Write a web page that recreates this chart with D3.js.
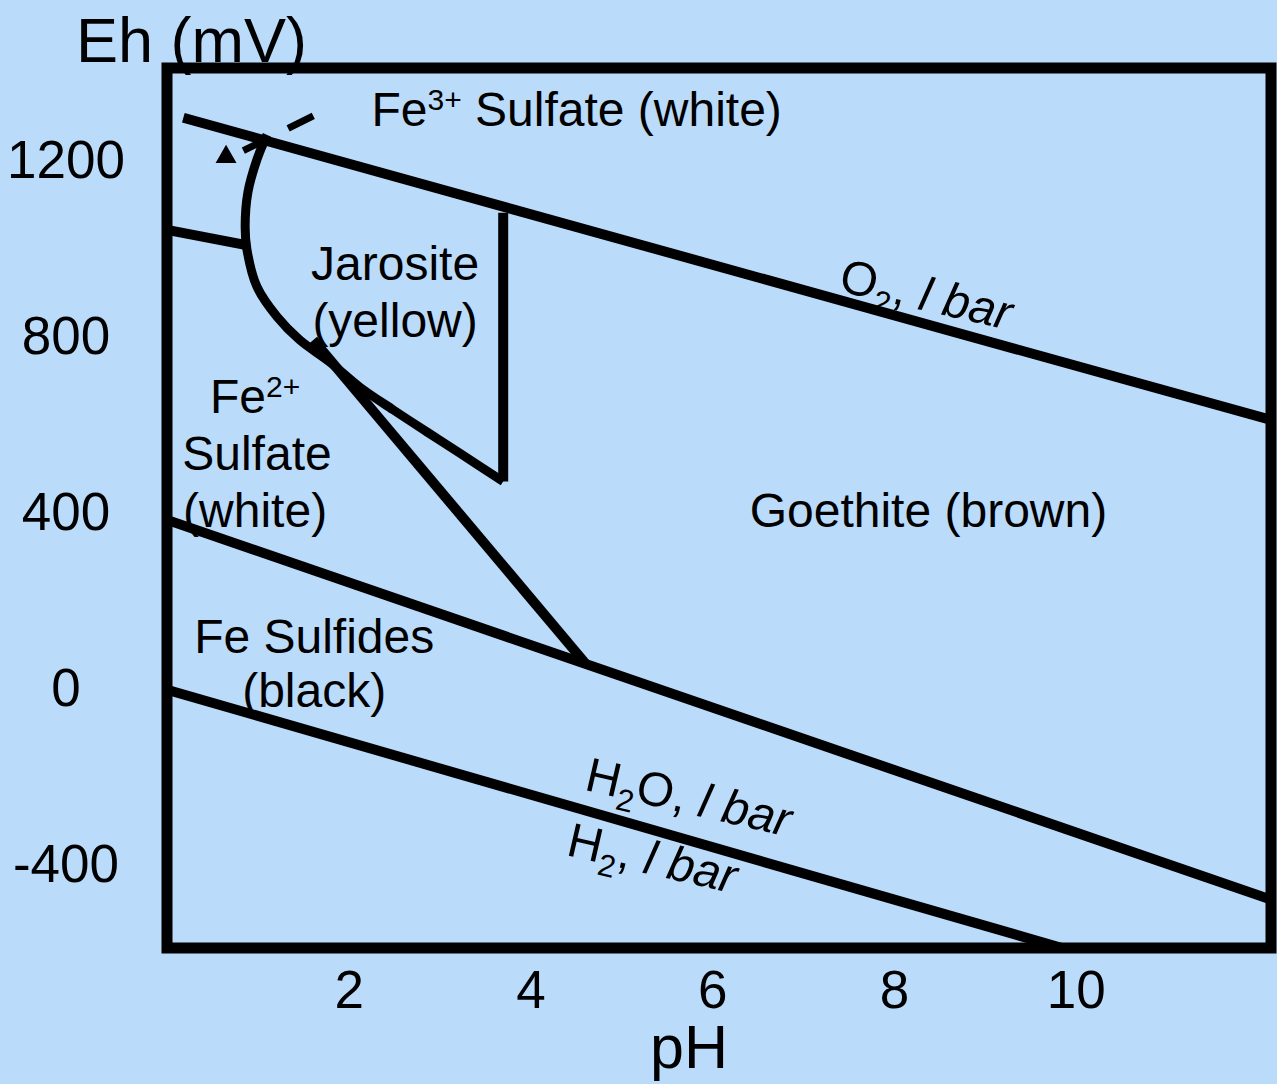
<!DOCTYPE html>
<html>
<head>
<meta charset="utf-8">
<script src="https://cdn.jsdelivr.net/npm/d3@7"></script>
<style>
  html, body { margin: 0; padding: 0; background: #bbdbfb; }
  svg { display: block; font-family: "Liberation Sans", Arial, Helvetica, sans-serif; }
</style>
</head>
<body>
<svg id="chart" width="1277" height="1084"></svg>
<script>
// axis ticks
var ph_ticks = [2, 4, 6, 8, 10];
var eh_ticks = [-400, 0, 400, 800, 1200];

// boundaries, [pH, Eh (mV)]
var o2_line = [[0.18, 1297], [12.15, 610]];
var h2_line = [[0, -3], [9.85, -590]];
var sulfide_line = [[0, 383], [12.15, -480]];
var fe23_line = [[0, 1042], [0.86, 1008]];
var jarosite_curve = [[1.10, 1258], [0.99, 1202], [0.89, 1127], [0.86, 1049], [0.88, 997],
    [0.99, 913], [1.21, 845], [1.46, 792], [1.79, 742], [2.12, 685], [2.49, 633],
    [2.86, 583], [3.22, 535], [3.70, 470]];
var jarosite_edge = [[3.70, 470], [3.70, 1081]];
var goethite_edge = [[1.61, 792], [4.60, 58]];
var dashed_edge = [[0.84, 1222], [1.61, 1301]];
var triangle_mark = [[0.65, 1208]];

// labels
var region_names = ["Jarosite", "(yellow)", "Goethite (brown)", "Fe Sulfides", "(black)"];

var svg = d3.select("#chart");
var x = d3.scaleLinear().domain([0, 12.15]).range([167, 1271]);
var y = d3.scaleLinear().domain([-590, 1410]).range([948, 68]);
var line = d3.line().x(d => x(d[0])).y(d => y(d[1]));

// axes
var gx = svg.append("g").attr("transform", "translate(0," + y.range()[0] + ")")
    .call(d3.axisBottom(x).tickValues(ph_ticks).tickSize(0).tickPadding(22).tickFormat(d => String(d)));
var gy = svg.append("g").attr("transform", "translate(" + x.range()[0] + ",0)")
    .call(d3.axisLeft(y).tickValues(eh_ticks).tickSize(0).tickFormat(d => String(d)));
svg.selectAll(".domain").remove();
svg.selectAll(".tick text").attr("font-family", "Liberation Sans, Arial, sans-serif")
    .attr("font-size", 53).attr("fill", "#000");
gy.selectAll(".tick text").attr("x", -101).attr("text-anchor", "middle");

// boundaries
var g = svg.append("g").attr("fill", "none").attr("stroke", "#000");
[o2_line, h2_line, sulfide_line, fe23_line, jarosite_edge, goethite_edge].forEach(function (d) {
    g.append("path").datum(d).attr("d", line).attr("stroke-width", 10);
});
g.append("path").datum(jarosite_curve)
    .attr("d", d3.line().x(d => x(d[0])).y(d => y(d[1])).curve(d3.curveCatmullRom))
    .attr("stroke-width", 9).attr("stroke-linejoin", "miter");
g.append("path").datum(dashed_edge).attr("d", line)
    .attr("stroke-width", 7).attr("stroke-dasharray", "17 33 30");
svg.selectAll(".tri").data(triangle_mark).join("path").classed("tri", true)
    .attr("transform", d => "translate(" + x(d[0]) + "," + y(d[1]) + ")")
    .attr("d", d3.symbol(d3.symbolTriangle, 190)).attr("fill", "#000");

// frame
svg.append("rect").attr("x", x.range()[0]).attr("y", y.range()[1])
    .attr("width", x.range()[1] - x.range()[0]).attr("height", y.range()[0] - y.range()[1])
    .attr("fill", "none").attr("stroke", "#000").attr("stroke-width", 11);

// axis titles
svg.append("text").attr("x", 76).attr("y", 62).attr("font-size", 63).text("Eh (mV)");
svg.append("text").attr("x", 689).attr("y", 1068).attr("font-size", 61)
    .attr("text-anchor", "middle").text("pH");

// region labels
var lab = svg.append("g").attr("font-size", 48).attr("fill", "#000");
function plain(t, ph, eh, anchor) {
    return lab.append("text").attr("x", x(ph)).attr("y", y(eh))
        .attr("text-anchor", anchor || "middle").text(t);
}
var t3 = lab.append("text").attr("x", x(2.25)).attr("y", y(1278));
t3.append("tspan").text("Fe");
t3.append("tspan").attr("dy", -16).attr("font-size", 30).text("3+");
t3.append("tspan").attr("dy", 16).text(" Sulfate (white)");

plain(region_names[0], 2.51, 928);
plain(region_names[1], 2.51, 799);

var t2 = lab.append("text").attr("x", x(0.97)).attr("y", y(626)).attr("text-anchor", "middle");
t2.append("tspan").text("Fe");
t2.append("tspan").attr("dy", -16).attr("font-size", 30).text("2+");
plain("Sulfate", 0.99, 497);
plain("(white)", 0.97, 367);

plain(region_names[2], 8.38, 367);
plain(region_names[3], 1.62, 81);
plain(region_names[4], 1.62, -42);

// gas lines
function gas(formula, ph, eh) {
    var t = lab.append("text")
        .attr("transform", "translate(" + x(ph) + "," + y(eh) + ") rotate(13)");
    formula.forEach(function (p) {
        if (p.sub) {
            t.append("tspan").attr("dy", 12).attr("font-size", 31).text(p.s);
        } else {
            t.append("tspan").attr("dy", p.back ? -12 : 0).text(p.s);
        }
    });
    t.append("tspan").attr("font-style", "italic").text(" l bar");
}
gas([{ s: "O" }, { s: "2", sub: true }, { s: ",", back: true }], 7.38, 904);
gas([{ s: "H" }, { s: "2", sub: true }, { s: "O,", back: true }], 4.58, -230);
gas([{ s: "H" }, { s: "2", sub: true }, { s: ",", back: true }], 4.38, -378);
</script>
</body>
</html>
